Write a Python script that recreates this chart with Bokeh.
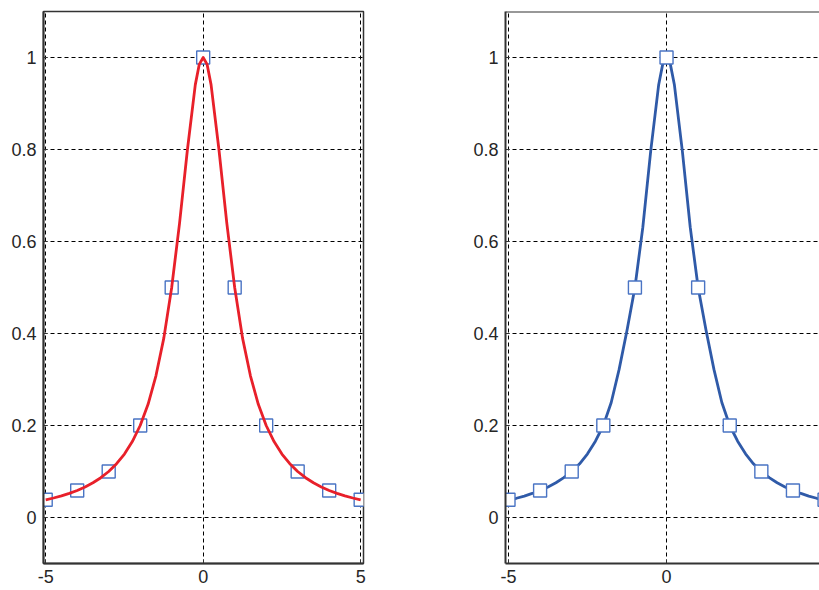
from bokeh.plotting import figure
from bokeh.layouts import row
from bokeh.models import FixedTicker, Range1d, Span
from bokeh.embed import file_html
from bokeh.resources import INLINE

# data points
pts_x = [-5, -4, -3, -2, -1, 0, 1, 2, 3, 4, 5]
pts_y = [0.0385, 0.0588, 0.1, 0.2, 0.5, 1.0, 0.5, 0.2, 0.1, 0.0588, 0.0385]

# curve samples
curve_x = [-5, -4.75, -4.5, -4.25, -4, -3.75, -3.5, -3.25, -3, -2.75, -2.5, -2.25,
           -2, -1.75, -1.5, -1.25, -1, -0.75, -0.5, -0.25, -0.125, 0, 0.125, 0.25,
           0.5, 0.75, 1, 1.25, 1.5, 1.75, 2, 2.25, 2.5, 2.75, 3, 3.25, 3.5, 3.75,
           4, 4.25, 4.5, 4.75, 5]
red_y = [0.0385, 0.0424, 0.0471, 0.0525, 0.0588, 0.0664, 0.0755, 0.0865, 0.1, 0.117,
         0.138, 0.165, 0.2, 0.246, 0.308, 0.39, 0.5, 0.64, 0.8, 0.941, 0.985, 1.0,
         0.985, 0.941, 0.8, 0.64, 0.5, 0.39, 0.308, 0.246, 0.2, 0.165, 0.138, 0.117,
         0.1, 0.0865, 0.0755, 0.0664, 0.0588, 0.0525, 0.0471, 0.0424, 0.0385]
blue_y = [0.0385, 0.0418, 0.0465, 0.0523, 0.0588, 0.0664, 0.0755, 0.0866, 0.1, 0.1168,
          0.1385, 0.166, 0.2, 0.250, 0.322, 0.407, 0.5, 0.631, 0.797, 0.940, 0.984, 1.0,
          0.984, 0.940, 0.797, 0.631, 0.5, 0.407, 0.322, 0.250, 0.2, 0.166, 0.1385, 0.1168,
          0.1, 0.0866, 0.0755, 0.0664, 0.0588, 0.0523, 0.0465, 0.0418, 0.0385]

x_ticks = [-5, 0, 5]
x_labels = {-5: "-5", 0: "0", 5: "5"}
y_ticks = [0, 0.2, 0.4, 0.6, 0.8, 1]
y_labels = {0: "0", 0.2: "0.2", 0.4: "0.4", 0.6: "0.6", 0.8: "0.8", 1: "1"}

FONT = "Liberation Sans"
TXT = "#262626"
FRAME = "#333333"


def style(p):
    p.xaxis.ticker = FixedTicker(ticks=x_ticks)
    p.xaxis.major_label_overrides = x_labels
    p.yaxis.ticker = FixedTicker(ticks=y_ticks)
    p.yaxis.major_label_overrides = y_labels
    for ax in (p.xaxis, p.yaxis):
        ax.major_label_text_font = FONT
        ax.major_label_text_font_size = "18px"
        ax.major_label_text_color = TXT
        ax.axis_line_color = FRAME
        ax.axis_line_width = 2
        ax.major_tick_in = 4
        ax.major_tick_out = 0
        ax.major_tick_line_color = FRAME
        ax.minor_tick_line_color = None
    p.xaxis.major_label_standoff = 6
    p.yaxis.major_label_standoff = 7
    for g in (p.xgrid, p.ygrid):
        g.grid_line_color = "black"
        g.grid_line_dash = "4 3"
        g.grid_line_width = 1
    p.background_fill_color = "white"
    p.border_fill_color = "white"


# left plot
p1 = figure(width=470, height=590, output_backend="svg", toolbar_location=None,
            x_range=Range1d(-5.07, 5.09), y_range=Range1d(-0.1, 1.1),
            min_border_left=43, min_border_right=107, min_border_top=11,
            min_border_bottom=27)
style(p1)
p1.outline_line_color = FRAME
p1.outline_line_width = 1.5
p1.scatter(pts_x, pts_y, marker="square", size=13, fill_color="white",
           line_color="#4a74c4", line_width=1.4)
p1.line(curve_x, red_y, line_color="#e8202a", line_width=2.8, line_join="round")

# right plot (cut off at the window edge)
p2 = figure(width=349, height=590, output_backend="svg", toolbar_location=None,
            x_range=Range1d(-5.095, 4.84), y_range=Range1d(-0.1, 1.1),
            min_border_left=35, min_border_right=0, min_border_top=8,
            min_border_bottom=27)
style(p2)
p2.outline_line_color = None
p2.add_layout(Span(location=1.1, dimension="width", line_color=FRAME, line_width=2))
p2.line(curve_x, blue_y, line_color="#2f5aa8", line_width=2.8, line_join="round")
p2.scatter(pts_x, pts_y, marker="square", size=13, fill_color="white",
           line_color="#4a74c4", line_width=1.4)

layout = row(p1, p2)
open("out.html", "w").write(file_html(layout, INLINE))
